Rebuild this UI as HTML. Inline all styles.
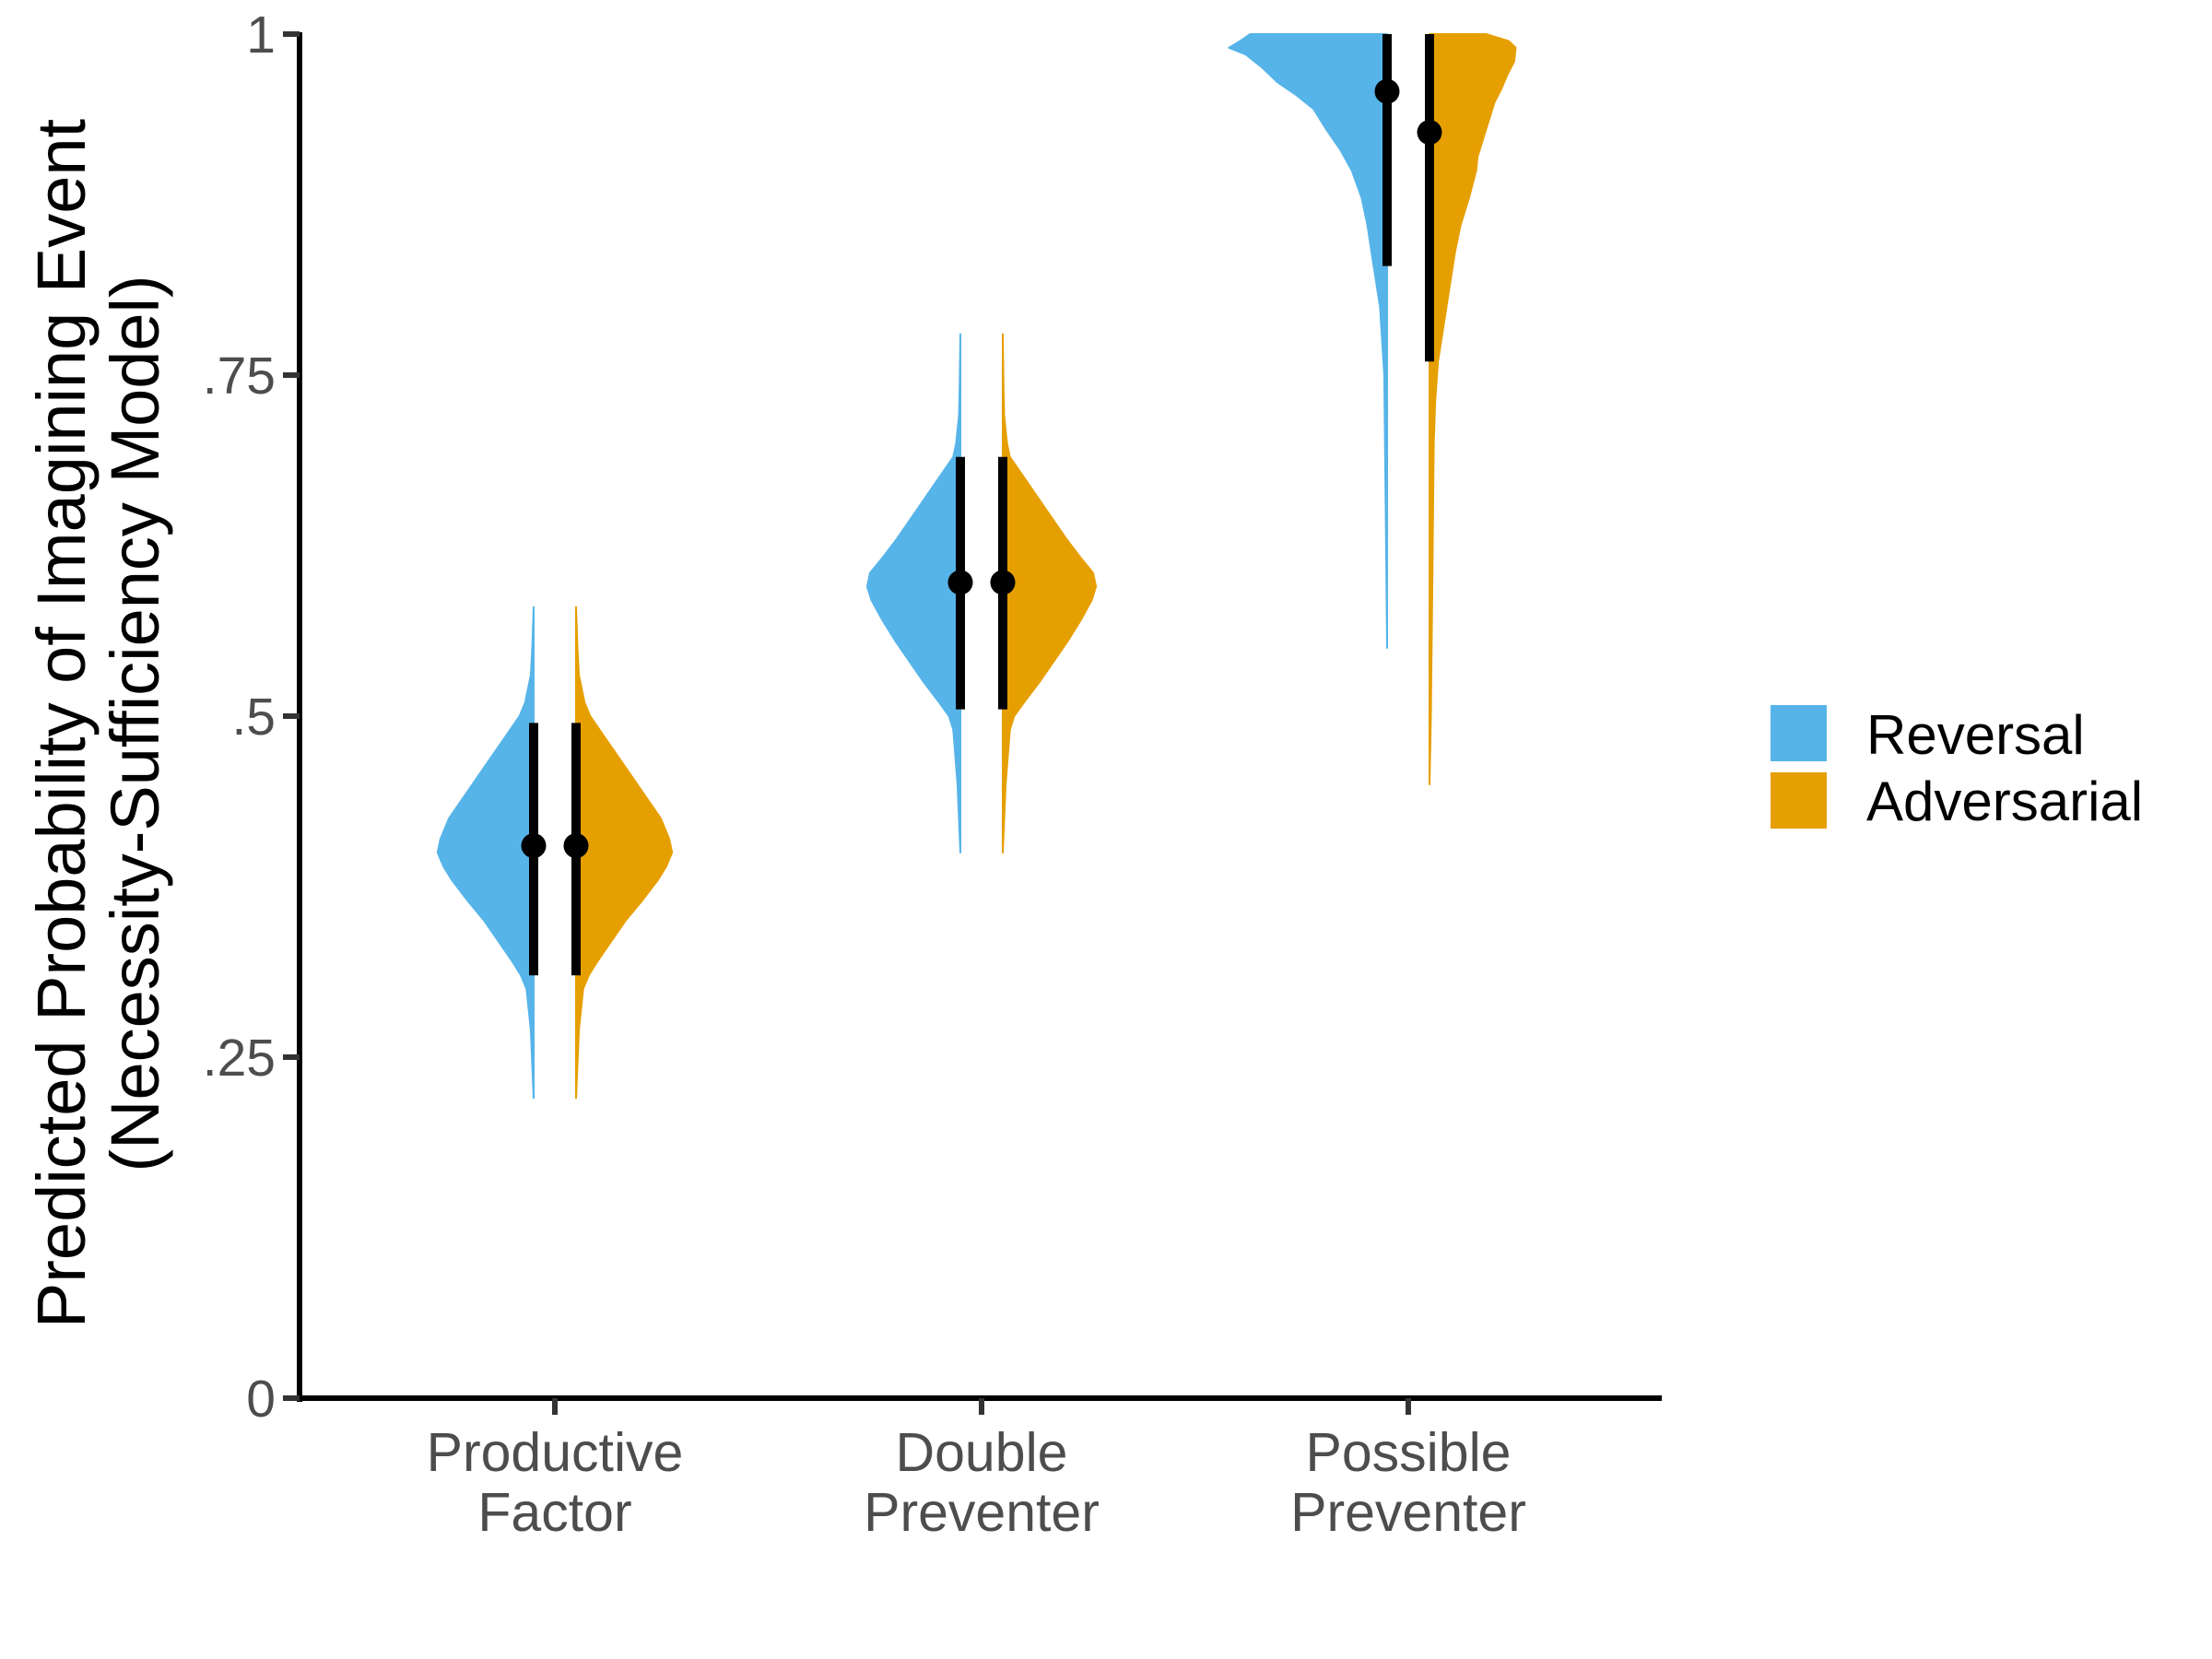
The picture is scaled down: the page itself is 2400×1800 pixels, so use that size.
<!DOCTYPE html>
<html><head><meta charset="utf-8"><style>
html,body{margin:0;padding:0;background:#fff;}
svg{display:block;font-family:"Liberation Sans",Arial,sans-serif;}
</style></head><body>
<svg id="chart" width="2400" height="1800" viewBox="0 0 2400 1800" xmlns="http://www.w3.org/2000/svg">
<g id="plot"></g>
<g id="axes"></g>
<text transform="translate(92,785) rotate(-90)" text-anchor="middle" font-size="74" fill="#000">Predicted Probability of Imagining Event</text>
<text transform="translate(172,785) rotate(-90)" text-anchor="middle" font-size="74" fill="#000">(Necessity-Sufficiency Model)</text>
<g>
<rect x="1921" y="765" width="61" height="61" fill="#56B4E9"/>
<rect x="1921" y="838" width="61" height="61" fill="#E69F00"/>
<text x="2025" y="818" font-size="60" fill="#000">Reversal</text>
<text x="2025" y="890" font-size="60" fill="#000">Adversarial</text>
</g>
</svg>
<script>
const categories=[["Productive","Factor"],["Double","Preventer"],["Possible","Preventer"]];
const seriesNames=["Reversal","Adversarial"];
const seriesColors=["#56B4E9","#E69F00"];
const yTickValues=[0,0.25,0.5,0.75,1];
const yTickLabels=["0",".25",".5",".75","1"];
const means=[[0.405,0.405],[0.598,0.598],[0.958,0.928]];
const lowers=[[0.31,0.31],[0.505,0.505],[0.83,0.76]];
const uppers=[[0.495,0.495],[0.69,0.69],[1.0,1.0]];
// density profiles: [value, relative density]
const densReversal=[
 [[0.58,0],[0.55,1],[0.53,2],[0.51,6],[0.50,10],[0.485,20],[0.47,30],[0.455,40],[0.44,50],[0.425,60],[0.41,66],[0.40,68],[0.39,64],[0.38,58],[0.365,47],[0.35,35],[0.335,25],[0.32,15],[0.31,9],[0.30,5],[0.27,2],[0.22,0]],
 [[0.78,0],[0.74,0.5],[0.72,1],[0.70,3],[0.69,5],[0.675,15],[0.66,25],[0.645,35],[0.63,45],[0.615,56],[0.605,64],[0.595,66],[0.585,63],[0.57,55],[0.555,46],[0.54,36],[0.525,26],[0.51,15],[0.50,8],[0.49,5],[0.45,2],[0.40,0]],
 [[1.0,97],[0.995,104],[0.99,112],[0.985,100],[0.975,88],[0.965,78],[0.955,64],[0.945,52],[0.93,43],[0.915,33],[0.90,25],[0.88,18],[0.86,14],[0.84,11],[0.82,8],[0.80,5],[0.75,2],[0.65,1],[0.55,0]]
];
const densAdversarial=[
 [[0.58,0],[0.55,1],[0.53,2],[0.51,6],[0.50,10],[0.485,20],[0.47,30],[0.455,40],[0.44,50],[0.425,60],[0.41,66],[0.40,68],[0.39,64],[0.38,58],[0.365,47],[0.35,35],[0.335,25],[0.32,15],[0.31,9],[0.30,5],[0.27,2],[0.22,0]],
 [[0.78,0],[0.74,0.5],[0.72,1],[0.70,3],[0.69,5],[0.675,15],[0.66,25],[0.645,35],[0.63,45],[0.615,56],[0.605,64],[0.595,66],[0.585,63],[0.57,55],[0.555,46],[0.54,36],[0.525,26],[0.51,15],[0.50,8],[0.49,5],[0.45,2],[0.40,0]],
 [[1.0,40],[0.995,56],[0.99,61],[0.98,60],[0.97,55],[0.96,51],[0.95,46],[0.93,40],[0.91,34],[0.90,33],[0.88,28],[0.86,22],[0.84,18],[0.82,15],[0.80,12],[0.78,9],[0.76,6],[0.73,4],[0.70,3],[0.60,2],[0.50,1],[0.45,0]]
];
const NS="http://www.w3.org/2000/svg";
const x0=325,x1=1803,yTop=37,yBot=1517;
const catX=[602,1065,1528];
const dodge=23, densScale=1.532;
function yS(v){return yBot-(yBot-yTop)*v;}
function xC(i){return catX[i];}
function mk(tag,attrs,parent){const e=document.createElementNS(NS,tag);for(const k in attrs)e.setAttribute(k,attrs[k]);parent.appendChild(e);return e;}
const plot=document.getElementById('plot'),axes=document.getElementById('axes');
const dens=[densReversal,densAdversarial];
for(let c=0;c<categories.length;c++){
 for(let s=0;s<2;s++){
  const cx=xC(c)+(s===0?-dodge:dodge), dir=s===0?-1:1;
  const prof=dens[s][c];
  let d="M"+cx+","+yS(prof[0][0]);
  prof.forEach(p=>{d+=" L"+(cx+dir*p[1]*densScale).toFixed(1)+","+yS(p[0]).toFixed(1);});
  d+=" L"+cx+","+yS(prof[prof.length-1][0])+" Z";
  const v=mk('path',{d:d,fill:seriesColors[s],stroke:seriesColors[s],"stroke-width":2,"stroke-linejoin":"round"},plot);
  
  
 }
}
for(let c=0;c<categories.length;c++){
 for(let s=0;s<2;s++){
  const cx=xC(c)+(s===0?-dodge:dodge);
  const l=mk('line',{x1:cx,x2:cx,y1:yS(lowers[c][s]),y2:yS(uppers[c][s]),stroke:"#000","stroke-width":10},plot);
  
  
  const p=mk('circle',{cx:cx,cy:yS(means[c][s]),r:13.5,fill:"#000"},plot);
  
  
 }
}
const ya=mk('line',{x1:x0,x2:x0,y1:yTop-2,y2:yBot+4,stroke:"#000","stroke-width":6},axes);


const xa=mk('line',{x1:x0-3,x2:x1,y1:yBot,y2:yBot,stroke:"#000","stroke-width":6},axes);


yTickValues.forEach((v,i)=>{
 const t=mk('line',{x1:x0-18,x2:x0,y1:yS(v),y2:yS(v),stroke:"#333","stroke-width":6},axes);
 
 
 const tx=mk('text',{x:x0-26,y:yS(v)+20,"text-anchor":"end","font-size":57,fill:"#4d4d4d"},axes);
 tx.textContent=yTickLabels[i];
 
 
});
categories.forEach((lab,i)=>{
 const t=mk('line',{x1:xC(i),x2:xC(i),y1:yBot,y2:yBot+18,stroke:"#333","stroke-width":6},axes);
 
 
 lab.forEach((ln,j)=>{
  const tx=mk('text',{x:xC(i),y:1596+j*65,"text-anchor":"middle","font-size":59,fill:"#4d4d4d"},axes);
  tx.textContent=ln;
  
  
 });
});
</script>
</body></html>
